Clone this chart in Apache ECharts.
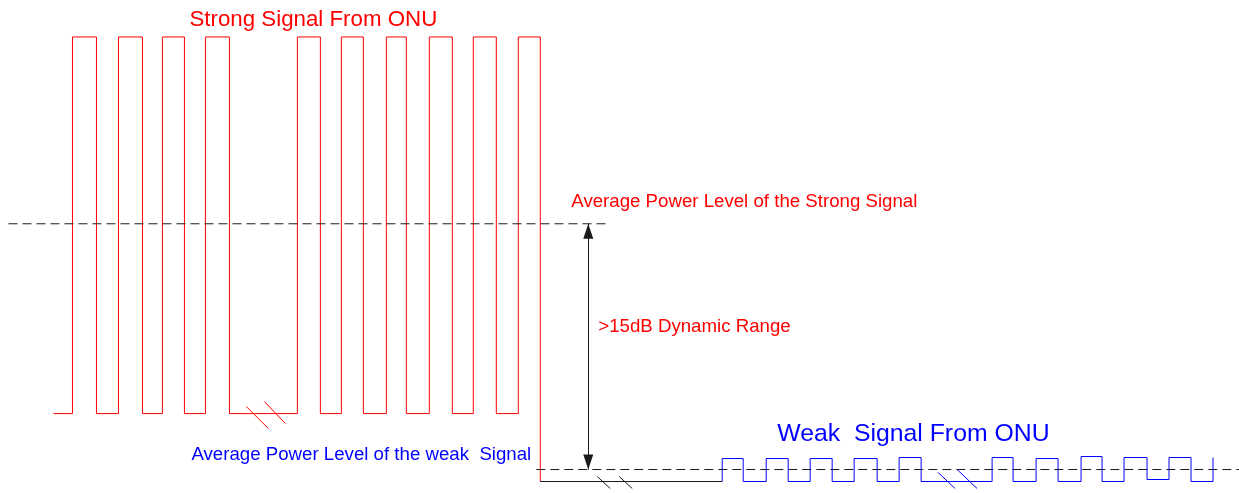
<!DOCTYPE html>
<html>
<head>
<meta charset="utf-8">
<script src="https://cdn.jsdelivr.net/npm/echarts@6/dist/echarts.min.js"></script>
<style>
html,body{margin:0;padding:0;background:#ffffff;}
#chart{width:1239px;height:493px;}
</style>
</head>
<body>
<div id="chart"></div>
<script>
// ---- data (time on x, power level on y) ----
const strongStart = 53;
const strongRise = [72, 118, 162, 205, 297, 341, 386, 429, 473, 518];
const strongFall = [96, 142, 184, 229, 320, 363, 406, 452, 496, 540];
const strongHigh = 456;
const strongLow = 79;
const strongAvg = 269;

const weakRise = [722, 766, 810, 854, 899, 992, 1036, 1081, 1124, 1169];
const weakFall = [743, 788, 832, 877, 921, 1013, 1058, 1102, 1147, 1191];
const weakHighs = [34, 34, 34, 34, 35, 35, 34, 36, 35, 35];
const weakLows = [11, 11, 11, 11, 11, 11, 11, 11, 13, 11];
const weakEndRise = 1213;
const weakLow = 11;
const weakAvg = 23;

const strongAvgSpan = [8, 607];
const weakAvgSpan = [536, 1239];
const rangeArrowX = 588;

const strongBreaks = [[[246, 86], [268, 64]], [[264, 91], [285, 69]]];
const linkBreaks = [[[597, 16], [610, 4]], [[619, 16], [632, 4]]];
const weakBreaks = [[[938, 20], [955, 4]], [[957, 23], [977, 4]]];

const texts = {
  strongTitle: 'Strong Signal From ONU',
  strongAvg: 'Average Power Level of the Strong Signal',
  range: '>15dB Dynamic Range',
  weakAvg: 'Average Power Level of the weak  Signal',
  weakTitle: 'Weak  Signal From ONU'
};

// ---- build polylines from the edge lists ----
const strongPts = [[strongStart, strongLow]];
strongRise.forEach((r, i) => {
  const f = strongFall[i];
  const last = i === strongRise.length - 1;
  strongPts.push([r, strongLow], [r, strongHigh], [f, strongHigh], [f, last ? weakLow : strongLow]);
});
const linkPts = [[strongFall[strongFall.length - 1], weakLow], [weakRise[0], weakLow]];
const weakPts = [[weakRise[0], weakLow]];
weakRise.forEach((r, i) => {
  const f = weakFall[i];
  weakPts.push([r, weakPts[weakPts.length - 1][1]], [r, weakHighs[i]], [f, weakHighs[i]], [f, weakLows[i]]);
});
weakPts.push([weakEndRise, weakPts[weakPts.length - 1][1]], [weakEndRise, weakHighs[weakHighs.length - 1]]);

const RED = '#ff0000', BLUE = '#0000ff', BLACK = '#1a1a1a';
const FONT = '"Liberation Sans", Arial, sans-serif';

function lineSeries(data, color, type) {
  return {
    type: 'line', data: data, symbol: 'none', silent: true, animation: false,
    lineStyle: { color: color, width: 1, type: type || 'solid' }, z: 3
  };
}
function textSeries(pos, text, color, size) {
  return {
    type: 'scatter', data: [pos], symbolSize: 0, silent: true, animation: false,
    itemStyle: { opacity: 1 },
    label: {
      show: true, position: 'inside', formatter: text, color: color, opacity: 1,
      fontFamily: FONT, fontSize: size, align: 'left', verticalAlign: 'middle'
    }, z: 5
  };
}

const series = [
  lineSeries(strongPts, RED),
  lineSeries(linkPts, BLACK),
  lineSeries(weakPts, BLUE),
  lineSeries([[strongAvgSpan[0], strongAvg], [strongAvgSpan[1], strongAvg]], BLACK, [9, 5]),
  lineSeries([[weakAvgSpan[0], weakAvg], [weakAvgSpan[1], weakAvg]], BLACK, [9, 5])
];
strongBreaks.forEach(b => series.push(lineSeries(b, RED)));
linkBreaks.forEach(b => series.push(lineSeries(b, BLACK)));
weakBreaks.forEach(b => series.push(lineSeries(b, BLUE)));

series.push({
  type: 'line', data: [], silent: true, animation: false,
  markLine: {
    silent: true, animation: false,
    symbol: ['triangle', 'triangle'], symbolSize: [10, 15],
    symbolOffset: [[0, 7.5], [0, 7.5]],
    itemStyle: { color: BLACK },
    lineStyle: { color: BLACK, width: 1, type: 'solid' },
    label: { show: false },
    emphasis: { disabled: true },
    data: [[{ coord: [rangeArrowX, strongAvg] }, { coord: [rangeArrowX, weakAvg] }]]
  }
});

series.push(textSeries([189, 473], texts.strongTitle, RED, 22.3));
series.push(textSeries([571, 291], texts.strongAvg, RED, 18.67));
series.push(textSeries([598, 166], texts.range, RED, 18.67));
series.push(textSeries([191, 38], texts.weakAvg, BLUE, 18.67));
series.push(textSeries([777, 58], texts.weakTitle, BLUE, 24.8));

const chart = echarts.init(document.getElementById('chart'), null, { renderer: 'canvas' });
chart.setOption({
  animation: false,
  backgroundColor: '#ffffff',
  // half-pixel offset keeps 1px strokes crisp
  grid: { left: 0.5, right: -0.5, top: -0.5, bottom: 0.5 },
  xAxis: { type: 'value', min: 0, max: 1239, show: false },
  yAxis: { type: 'value', min: 0, max: 493, show: false },
  series: series
});
</script>
</body>
</html>
